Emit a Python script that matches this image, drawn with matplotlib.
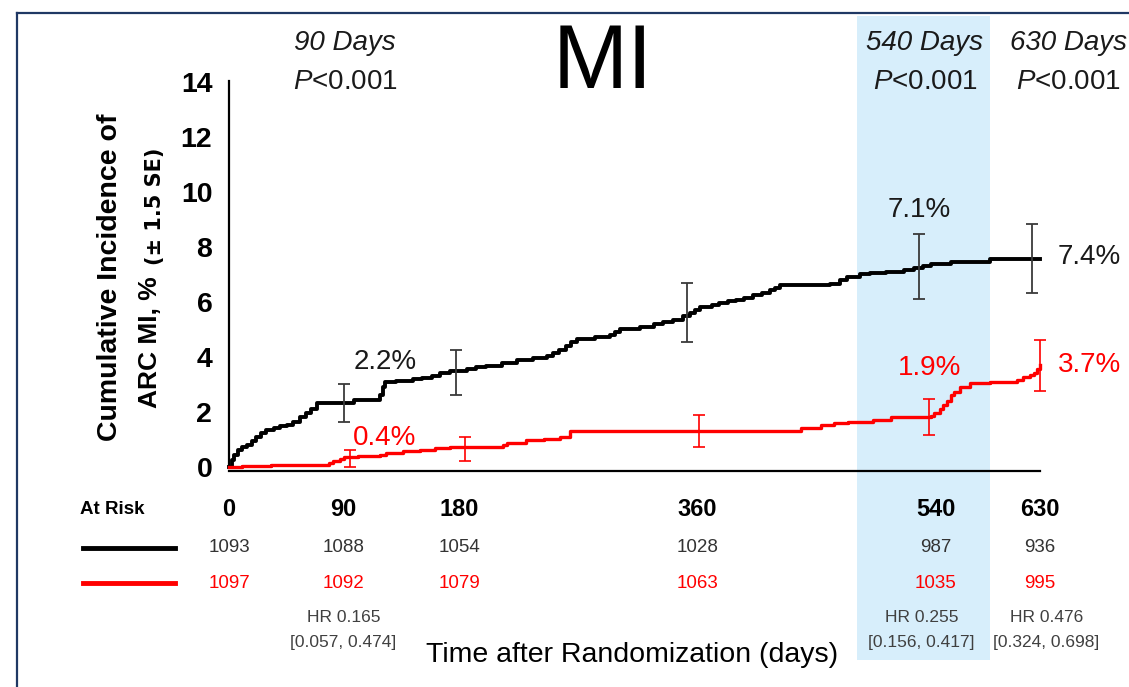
import matplotlib
matplotlib.use("Agg")
import matplotlib.pyplot as plt
import matplotlib.transforms as mtransforms
from matplotlib.patches import Rectangle
from matplotlib.lines import Line2D

plt.rcParams['font.family'] = ['Liberation Sans', 'DejaVu Sans']
plt.rcParams['mathtext.fontset'] = 'custom'
plt.rcParams['mathtext.it'] = 'Liberation Sans:italic'
plt.rcParams['mathtext.rm'] = 'Liberation Sans'

# ---- data ----
black_days = [0, 2, 4, 7, 10, 14, 18, 21, 25, 29, 35, 40, 45, 50, 55, 60, 64, 68, 91, 97, 117, 120, 121,
              130, 143, 150, 158, 164, 172, 185, 192, 200, 212, 224, 236, 247, 252, 256, 262, 266, 270,
              284, 296, 300, 304, 319, 330, 337, 345, 353, 358, 362, 366, 375, 381, 388, 394, 400, 407,
              414, 420, 424, 428, 467, 475, 480, 490, 498, 510, 524, 532, 539, 545, 561, 591, 630]
black_vals = [0, 0.25, 0.45, 0.62, 0.72, 0.8, 0.95, 1.1, 1.25, 1.35, 1.4, 1.5, 1.53, 1.65, 1.8, 1.95, 2.1,
              2.32, 2.34, 2.44, 2.6, 2.9, 3.1, 3.12, 3.18, 3.25, 3.3, 3.4, 3.5, 3.55, 3.62, 3.68, 3.78,
              3.9, 3.95, 4.02, 4.15, 4.25, 4.4, 4.55, 4.65, 4.72, 4.8, 4.9, 5.0, 5.1, 5.2, 5.28, 5.35,
              5.47, 5.6, 5.72, 5.83, 5.9, 5.95, 6.02, 6.08, 6.15, 6.25, 6.32, 6.43, 6.52, 6.62, 6.65,
              6.8, 6.92, 7.0, 7.05, 7.08, 7.15, 7.22, 7.3, 7.38, 7.47, 7.56, 7.56]

red_days = [0, 10, 33, 78, 81, 86, 89, 100, 117, 122, 135, 148, 160, 172, 213, 216, 231, 245, 257, 265,
            444, 460, 470, 481, 500, 514, 545, 548, 552, 555, 558, 561, 563, 568, 576, 591, 612, 617,
            622, 625, 628, 630]
red_vals = [0, 0.03, 0.08, 0.14, 0.23, 0.3, 0.36, 0.4, 0.44, 0.5, 0.56, 0.62, 0.68, 0.74, 0.78, 0.86,
            0.98, 1.02, 1.1, 1.3, 1.41, 1.53, 1.58, 1.65, 1.72, 1.81, 1.84, 1.95, 2.12, 2.25, 2.38, 2.6,
            2.74, 2.92, 3.05, 3.1, 3.16, 3.28, 3.35, 3.42, 3.55, 3.7]

black_err_days = [89, 176, 356, 536, 624]
black_err_mid = [2.34, 3.5, 5.6, 7.3, 7.6]
black_err_lo = [1.65, 2.6, 4.55, 6.1, 6.33]
black_err_hi = [3.0, 4.25, 6.7, 8.47, 8.84]

red_err_days = [94, 183, 365, 544, 630]
red_err_mid = [0.35, 0.75, 1.4, 1.85, 3.7]
red_err_lo = [0.0, 0.23, 0.74, 1.16, 2.77]
red_err_hi = [0.6, 1.07, 1.9, 2.47, 4.6]

risk_days = ['0', '90', '180', '360', '540', '630']
risk_black = ['1093', '1088', '1054', '1028', '987', '936']
risk_red = ['1097', '1092', '1079', '1063', '1035', '995']
risk_x = [0, 89, 179, 364, 549, 630]

hr_labels = ['HR 0.165', 'HR 0.255', 'HR 0.476']
hr_ci = ['[0.057, 0.474]', '[0.156, 0.417]', '[0.324, 0.698]']
hr_x = [89, 538, 635]

shade_days = (488, 591)

W, H = 1129, 687
RED = '#ff0000'


def fpx(x, y):
    # pixel position -> figure fraction
    return x / W, 1 - y / H


fig = plt.figure(figsize=(W / 100, H / 100), dpi=100)
ax = fig.add_axes([229 / W, 1 - 471 / H, (1040 - 229) / W, (471 - 82) / H])
ax.patch.set_visible(False)

# shaded 540-day window, reaching over the at-risk table
tr = mtransforms.blended_transform_factory(ax.transData, fig.transFigure)
ax.add_patch(Rectangle((shade_days[0], 1 - 660 / H), shade_days[1] - shade_days[0], (660 - 16) / H,
                       transform=tr, facecolor='#d7eefb', edgecolor='none', zorder=0, clip_on=False))

ax.step(black_days, black_vals, where='post', color='black', lw=2.8, zorder=3, clip_on=False)
ax.step(red_days, red_vals, where='post', color=RED, lw=2.4, zorder=3, clip_on=False)

ax.errorbar(black_err_days, black_err_mid,
            yerr=[[m - l for m, l in zip(black_err_mid, black_err_lo)],
                  [h - m for m, h in zip(black_err_mid, black_err_hi)]],
            fmt='none', ecolor='#3a3a3a', elinewidth=1.3, capsize=4, capthick=1.3, zorder=4, clip_on=False)
ax.errorbar(red_err_days, red_err_mid,
            yerr=[[m - l for m, l in zip(red_err_mid, red_err_lo)],
                  [h - m for m, h in zip(red_err_mid, red_err_hi)]],
            fmt='none', ecolor=RED, elinewidth=1.2, capsize=4, capthick=1.2, zorder=4, clip_on=False)

ax.set_xlim(0, 630)
ax.set_ylim(-0.15, 14)
ax.set_yticks(range(0, 15, 2))
ax.set_xticks([])
ax.tick_params(axis='y', length=0, pad=12, labelsize=20.5)
for lab in ax.get_yticklabels():
    lab.set_fontweight('bold')
for s in ['top', 'right']:
    ax.spines[s].set_visible(False)
ax.spines['left'].set_linewidth(1.6)
ax.spines['bottom'].set_linewidth(1.6)
ax.spines['left'].set_bounds(0, 14.05)

# y label (two lines)
fig.text(*fpx(110, 277), 'Cumulative Incidence of', rotation=90, ha='center', va='center',
         fontsize=20.5, fontweight='bold')
fig.text(*fpx(150, 342), 'ARC MI, %', rotation=90, ha='center', va='center',
         fontsize=19, fontweight='bold')
fig.text(*fpx(155, 206), '(± 1.5 SE)', rotation=90, ha='center', va='center',
         fontsize=15, fontweight='bold', family=['DejaVu Sans'])

# title and p-value headers
fig.text(*fpx(603, 65), 'MI', ha='center', va='center', fontsize=65)
for x, lab in [(345, '90 Days'), (925, '540 Days'), (1068, '630 Days')]:
    fig.text(*fpx(x, 43), lab, ha='center', va='center', fontsize=20, style='italic', color='#1a1a1a')
    fig.text(*fpx(x, 82), '$P$<0.001', ha='center', va='center', fontsize=20, color='#1a1a1a')

# percentage annotations
fig.text(*fpx(385, 362), '2.2%', ha='center', va='center', fontsize=20, color='#1a1a1a')
fig.text(*fpx(385, 438), '0.4%', ha='center', va='center', fontsize=20, color=RED)
fig.text(*fpx(919, 210), '7.1%', ha='center', va='center', fontsize=20, color='#1a1a1a')
fig.text(*fpx(1058, 257), '7.4%', ha='left', va='center', fontsize=20, color='#1a1a1a')
fig.text(*fpx(930, 368), '1.9%', ha='center', va='center', fontsize=20, color=RED)
fig.text(*fpx(1058, 365), '3.7%', ha='left', va='center', fontsize=20, color=RED)

# at-risk table
fig.text(*fpx(112, 509), 'At Risk', ha='center', va='center', fontsize=13.5, fontweight='bold')
fig.add_artist(Line2D([83 / W, 175 / W], [1 - 548 / H] * 2, color='black', lw=3.5))
fig.add_artist(Line2D([83 / W, 175 / W], [1 - 583 / H] * 2, color=RED, lw=3.5))
for x, d, b, r in zip(risk_x, risk_days, risk_black, risk_red):
    fig.text(x, 1 - 509 / H, d, transform=tr, ha='center', va='center', fontsize=17, fontweight='bold')
    fig.text(x, 1 - 548 / H, b, transform=tr, ha='center', va='center', fontsize=13.5, color='#333333')
    fig.text(x, 1 - 583 / H, r, transform=tr, ha='center', va='center', fontsize=13.5, color=RED)
for x, h, c in zip(hr_x, hr_labels, hr_ci):
    fig.text(x, 1 - 617 / H, h, transform=tr, ha='center', va='center', fontsize=12.5, color='#404040')
    fig.text(x, 1 - 642 / H, c, transform=tr, ha='center', va='center', fontsize=12.5, color='#404040')

fig.text(*fpx(632, 655), 'Time after Randomization (days)', ha='center', va='center', fontsize=20.5)

# slide frame
fig.add_artist(Line2D([17 / W, 1], [1 - 13 / H] * 2, color='#1f3864', lw=1.6))
fig.add_artist(Line2D([17 / W] * 2, [0, 1 - 13 / H], color='#1f3864', lw=1.6))

fig.savefig('out.png', dpi=100)
